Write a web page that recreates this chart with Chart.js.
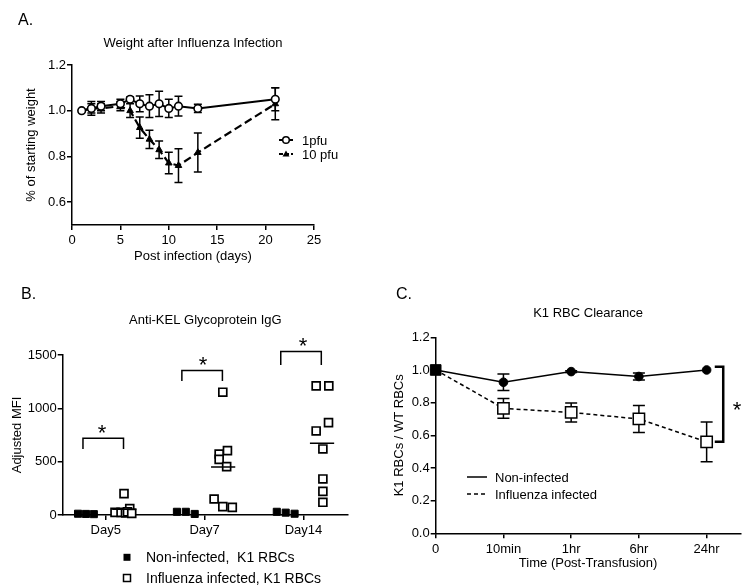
<!DOCTYPE html>
<html><head><meta charset="utf-8">
<script src="https://cdn.jsdelivr.net/npm/chart.js@4.4.1/dist/chart.umd.min.js"></script>
<style>
body{margin:0;background:#fff;}
#wrap{position:relative;width:750px;height:588px;overflow:hidden;font-family:"Liberation Sans",Arial,sans-serif;color:#000;background:#fff;}
canvas{position:absolute;left:0;top:0;}
.t{position:absolute;white-space:pre;line-height:1;}
.c{transform:translate(-50%,-50%);}
.l{transform:translateY(-50%);}
</style></head><body>
<div id="wrap">
<canvas id="cA" width="750" height="588"></canvas>
<canvas id="cB" width="750" height="588"></canvas>
<canvas id="cC" width="750" height="588"></canvas>
<div class="t l" style="left:18px;top:20px;font-size:16px">A.</div>
<div class="t l" style="left:21px;top:294px;font-size:16px">B.</div>
<div class="t l" style="left:396px;top:294px;font-size:16px">C.</div>
<div class="t l" style="left:302px;top:140px;font-size:13px">1pfu</div>
<div class="t l" style="left:302px;top:154px;font-size:13px">10 pfu</div>
<div class="t c" style="left:102px;top:433px;font-size:22px">*</div>
<div class="t c" style="left:203px;top:365px;font-size:22px">*</div>
<div class="t c" style="left:303px;top:346px;font-size:22px">*</div>
<div class="t l" style="left:146px;top:557px;font-size:14px">Non-infected,  K1 RBCs</div>
<div class="t l" style="left:146px;top:578px;font-size:14px">Influenza infected, K1 RBCs</div>
<div class="t l" style="left:495px;top:477px;font-size:13px">Non-infected</div>
<div class="t l" style="left:495px;top:494px;font-size:13px">Influenza infected</div>
<div class="t c" style="left:737px;top:410px;font-size:22px">*</div>
</div>
<script>
// ---------- Panel A data ----------
const daysA = [1, 2, 3, 5, 6, 7, 8, 9, 10, 11, 13, 21];
const weight1pfu = [1.00, 1.01, 1.02, 1.03, 1.05, 1.03, 1.02, 1.03, 1.01, 1.02, 1.01, 1.05];
const err1pfu = [0, 0.02, 0.02, 0.02, 0.01, 0.034, 0.05, 0.055, 0.04, 0.043, 0.018, 0.05];
const weight10pfu = [1.00, 1.01, 1.01, 1.02, 1.00, 0.926, 0.875, 0.829, 0.771, 0.76, 0.817, 1.03];
const err10pfu = [0, 0.03, 0.02, 0.02, 0.03, 0.047, 0.04, 0.038, 0.047, 0.074, 0.085, 0.07];
const yTicksA = [0.6, 0.8, 1.0, 1.2];

// ---------- Panel B data ----------
const groupsB = ['Day5', 'Day7', 'Day14'];
const nonInfB = [[12, 10, 8], [30, 30, 10], [30, 22, 12]];
const nonInfJitB = [[-0.28, -0.2, -0.12], [-0.28, -0.19, -0.1], [-0.27, -0.18, -0.09]];
const infB = [[25, 25, 200, 20, 60, 30, 15], [1151, 603, 572, 522, 453, 150, 78, 72], [1210, 1210, 866, 788, 619, 338, 222, 119]];
const infJitB = [[0.094, 0.155, 0.185, 0.2, 0.243, 0.22, 0.263], [0.184, 0.231, 0.147, 0.147, 0.223, 0.096, 0.184, 0.28], [0.128, 0.256, 0.253, 0.128, 0.196, 0.196, 0.196, 0.196]];
const meanInfB = [55, 450, 672];
const bracketTopB = [720, 1354, 1532];
const bracketLegB = [619, 1257, 1407];

// ---------- Panel C data ----------
const timeLabelsC = ['0', '10min', '1hr', '6hr', '24hr'];
const ratioNonInf = [1.0, 0.925, 0.99, 0.96, 1.0];
const errNonInf = [0, 0.05, 0.005, 0.022, 0];
const ratioInf = [1.0, 0.765, 0.74, 0.70, 0.56];
const errInf = [0, 0.061, 0.058, 0.083, 0.122];
const yTicksC = [0, 0.2, 0.4, 0.6, 0.8, 1.0, 1.2];

Chart.defaults.font.family = '"Liberation Sans", Arial, sans-serif';
Chart.defaults.color = '#000';
Chart.defaults.animation = false;

const errorBars = {
  id: 'errorBars',
  beforeDatasetsDraw(chart) {
    const ctx = chart.ctx, ys = chart.scales.y;
    chart.data.datasets.forEach((ds, i) => {
      if (!ds.errors) return;
      const meta = chart.getDatasetMeta(i);
      ctx.save();
      ctx.strokeStyle = '#000';
      ctx.lineWidth = ds.errWidth || 1.5;
      meta.data.forEach((pt, j) => {
        const e = ds.errors[j];
        if (!e) return;
        const v = ds.data[j].y;
        const y1 = ys.getPixelForValue(v + e), y2 = ys.getPixelForValue(v - e);
        const x = pt.x, c = ds.capHalf || 4;
        ctx.beginPath();
        ctx.moveTo(x, y1); ctx.lineTo(x, y2);
        ctx.moveTo(x - c, y1); ctx.lineTo(x + c, y1);
        ctx.moveTo(x - c, y2); ctx.lineTo(x + c, y2);
        ctx.stroke();
      });
      ctx.restore();
    });
  }
};

function axisCommon() {
  return {
    border: { display: true, color: '#000', width: 1.5 },
    grid: { display: true, drawOnChartArea: false, drawTicks: true, tickLength: 5, color: '#000', lineWidth: 1.5 },
  };
}

// ---------- Chart A ----------
const legendA = {
  id: 'legendA',
  afterDraw(chart) {
    const ctx = chart.ctx;
    ctx.save();
    ctx.strokeStyle = '#000'; ctx.fillStyle = '#000';
    ctx.lineWidth = 2;
    ctx.beginPath(); ctx.moveTo(279, 140); ctx.lineTo(293, 140); ctx.stroke();
    ctx.beginPath(); ctx.arc(286, 140, 3.3, 0, Math.PI * 2); ctx.fillStyle = '#fff'; ctx.fill(); ctx.lineWidth = 1.5; ctx.stroke();
    ctx.lineWidth = 2; ctx.setLineDash([4, 2]);
    ctx.beginPath(); ctx.moveTo(279, 154); ctx.lineTo(293, 154); ctx.stroke();
    ctx.setLineDash([]);
    ctx.fillStyle = '#000';
    ctx.beginPath(); ctx.moveTo(286, 150.5); ctx.lineTo(289.5, 156.5); ctx.lineTo(282.5, 156.5); ctx.closePath(); ctx.fill();
    ctx.restore();
  }
};

new Chart(document.getElementById('cA'), {
  type: 'line',
  data: {
    datasets: [
      {
        label: '1pfu',
        data: daysA.map((d, i) => ({ x: d, y: weight1pfu[i] })),
        errors: err1pfu, capHalf: 4, errWidth: 1.5,
        borderColor: '#000', borderWidth: 2,
        pointStyle: 'circle', pointRadius: 3.8, pointBackgroundColor: '#fff', pointBorderColor: '#000', pointBorderWidth: 1.6,
        tension: 0, clip: false
      },
      {
        label: '10 pfu',
        data: daysA.map((d, i) => ({ x: d, y: weight10pfu[i] })),
        errors: err10pfu, capHalf: 4, errWidth: 1.5,
        borderColor: '#000', borderWidth: 2.2, borderDash: [8, 4],
        pointStyle: 'triangle', pointRadius: 3.8, pointBackgroundColor: '#000', pointBorderColor: '#000', pointBorderWidth: 1,
        tension: 0, clip: false
      }
    ]
  },
  options: {
    responsive: false, devicePixelRatio: 1,
    layout: { padding: { left: 23.2, right: 436, top: 35.2, bottom: 323.5 } },
    plugins: {
      legend: { display: false }, tooltip: { enabled: false },
      title: { display: true, text: 'Weight after Influenza Infection', fullSize: false, color: '#000',
        font: { size: 13, weight: 'normal' }, padding: { top: 0, bottom: 14.2 } }
    },
    scales: {
      x: Object.assign(axisCommon(), {
        type: 'linear', min: 0, max: 25,
        ticks: { stepSize: 5, padding: 3, font: { size: 13 }, maxRotation: 0, callback: v => String(v) },
        title: { display: true, text: 'Post infection (days)', font: { size: 13 }, padding: 0 },
        afterFit(s) { s.height = 39.5; }
      }),
      y: Object.assign(axisCommon(), {
        type: 'linear', min: 0.5, max: 1.2,
        afterBuildTicks(s) { s.ticks = yTicksA.map(v => ({ value: v })); },
        ticks: { padding: 1, font: { size: 13 }, callback: v => Number(v).toFixed(1) },
        title: { display: true, text: '% of starting weight', font: { size: 13 }, padding: 0 },
        afterFit(s) { s.width = 48.8; }
      })
    }
  },
  plugins: [errorBars, legendA]
});

// ---------- Chart B ----------
const nonInfPts = [], infPts = [], meanPts = [];
groupsB.forEach((g, gi) => {
  nonInfB[gi].forEach((v, k) => nonInfPts.push({ x: gi + 1 + nonInfJitB[gi][k], y: v }));
  infB[gi].forEach((v, k) => infPts.push({ x: gi + 1 + infJitB[gi][k], y: v }));
  meanPts.push({ x: gi + 1 + 0.065, y: meanInfB[gi] }, { x: gi + 1 + 0.31, y: meanInfB[gi] }, { x: gi + 1.5, y: null });
});

const extrasB = {
  id: 'extrasB',
  afterDatasetsDraw(chart) {
    const ctx = chart.ctx, xs = chart.scales.x, ys = chart.scales.y;
    ctx.save();
    ctx.strokeStyle = '#000'; ctx.lineWidth = 1.5;
    groupsB.forEach((g, i) => {
      const xl = xs.getPixelForValue(i + 1 - 0.23), xr = xs.getPixelForValue(i + 1 + 0.18);
      const yt = ys.getPixelForValue(bracketTopB[i]), yb = ys.getPixelForValue(bracketLegB[i]);
      ctx.beginPath(); ctx.moveTo(xl, yb); ctx.lineTo(xl, yt); ctx.lineTo(xr, yt); ctx.lineTo(xr, yb); ctx.stroke();
    });
    // legend markers
    ctx.fillStyle = '#000';
    ctx.fillRect(123.5, 553.8, 7, 7);
    ctx.lineWidth = 1.5;
    ctx.strokeRect(123.5, 574.5, 7, 7);
    ctx.restore();
  }
};

new Chart(document.getElementById('cB'), {
  type: 'scatter',
  data: {
    datasets: [
      { label: 'mean', data: meanPts, showLine: true, spanGaps: false, borderColor: '#000', borderWidth: 1.5, pointRadius: 0, clip: false },
      { label: 'Non-infected,  K1 RBCs', data: nonInfPts, pointStyle: 'rect', pointRadius: 5, pointBackgroundColor: '#000', pointBorderColor: '#000', pointBorderWidth: 1, clip: false },
      { label: 'Influenza infected, K1 RBCs', data: infPts, pointStyle: 'rect', pointRadius: 5.6, pointBackgroundColor: '#fff', pointBorderColor: '#000', pointBorderWidth: 1.7, clip: false }
    ]
  },
  options: {
    responsive: false, devicePixelRatio: 1,
    layout: { padding: { left: 9.2, right: 402, top: 312.9, bottom: 48 } },
    plugins: {
      legend: { display: false }, tooltip: { enabled: false },
      title: { display: true, text: 'Anti-KEL Glycoprotein IgG', fullSize: false, color: '#000',
        font: { size: 13, weight: 'normal' }, padding: { top: 0, bottom: 26.5 } }
    },
    scales: {
      x: Object.assign(axisCommon(), {
        type: 'linear', min: 0.565, max: 3.45,
        afterBuildTicks(s) { s.ticks = groupsB.map((g, i) => ({ value: i + 1 })); },
        ticks: { padding: 3, font: { size: 13 }, maxRotation: 0, autoSkip: false, callback: (v, i) => groupsB[i] },
        afterFit(s) { s.height = 25; }
      }),
      y: Object.assign(axisCommon(), {
        type: 'linear', min: 0, max: 1500,
        ticks: { stepSize: 500, padding: 1, font: { size: 13 }, callback: v => String(v) },
        title: { display: true, text: 'Adjusted MFI', font: { size: 13 }, padding: 0 },
        afterFit(s) { s.width = 53.5; }
      })
    }
  },
  plugins: [extrasB]
});

// ---------- Chart C ----------
const extrasC = {
  id: 'extrasC',
  afterDatasetsDraw(chart) {
    const ctx = chart.ctx, xs = chart.scales.x, ys = chart.scales.y;
    ctx.save();
    ctx.strokeStyle = '#000';
    ctx.lineWidth = 2.5;
    const xb = xs.getPixelForValue(4.245), xt = xs.getPixelForValue(4.12);
    const yt = ys.getPixelForValue(1.02), yb = ys.getPixelForValue(0.561);
    ctx.beginPath(); ctx.moveTo(xt, yt); ctx.lineTo(xb, yt); ctx.lineTo(xb, yb); ctx.lineTo(xt, yb); ctx.stroke();
    // legend samples
    ctx.lineWidth = 1.5;
    ctx.beginPath(); ctx.moveTo(467, 477); ctx.lineTo(487, 477); ctx.stroke();
    ctx.setLineDash([4, 3]);
    ctx.beginPath(); ctx.moveTo(467, 494); ctx.lineTo(487, 494); ctx.stroke();
    ctx.restore();
  }
};

new Chart(document.getElementById('cC'), {
  type: 'line',
  data: {
    datasets: [
      {
        label: 'Non-infected',
        data: ratioNonInf.map((v, i) => ({ x: i, y: v })),
        errors: errNonInf, capHalf: 6, errWidth: 1.5,
        borderColor: '#000', borderWidth: 1.5,
        pointStyle: ['rect', 'circle', 'circle', 'circle', 'circle'],
        pointRadius: [7.5, 4.3, 4.3, 4.3, 4.3],
        pointBackgroundColor: '#000', pointBorderColor: '#000', pointBorderWidth: 1,
        tension: 0, clip: false
      },
      {
        label: 'Influenza infected',
        data: ratioInf.map((v, i) => ({ x: i, y: v })),
        errors: errInf, capHalf: 6, errWidth: 1.5,
        borderColor: '#000', borderWidth: 1.5, borderDash: [4, 3],
        pointStyle: 'rect', pointRadius: [0, 8, 8, 8, 8],
        pointBackgroundColor: '#fff', pointBorderColor: '#000', pointBorderWidth: 1.5,
        tension: 0, clip: false
      }
    ]
  },
  options: {
    responsive: false, devicePixelRatio: 1,
    layout: { padding: { left: 391.2, right: 7.3, top: 305.5, bottom: 16.9 } },
    plugins: {
      legend: { display: false }, tooltip: { enabled: false },
      title: { display: true, text: 'K1 RBC Clearance', fullSize: false, color: '#000',
        font: { size: 13, weight: 'normal' }, padding: { top: 0, bottom: 16.2 } }
    },
    scales: {
      x: Object.assign(axisCommon(), {
        type: 'linear', min: 0, max: 4.5,
        afterBuildTicks(s) { s.ticks = timeLabelsC.map((t, i) => ({ value: i })); },
        ticks: { padding: 3, font: { size: 13 }, maxRotation: 0, autoSkip: false, callback: (v, i) => timeLabelsC[i] },
        title: { display: true, text: 'Time (Post-Transfusion)', font: { size: 13 }, padding: 0 },
        afterFit(s) { s.height = 37.8; }
      }),
      y: Object.assign(axisCommon(), {
        type: 'linear', min: 0, max: 1.2,
        afterBuildTicks(s) { s.ticks = yTicksC.map(v => ({ value: v })); },
        ticks: { padding: 1, font: { size: 13 }, callback: v => Number(v).toFixed(1) },
        title: { display: true, text: 'K1 RBCs / WT RBCs', font: { size: 13 }, padding: 0 },
        afterFit(s) { s.width = 44.5; }
      })
    }
  },
  plugins: [errorBars, extrasC]
});
</script>
</body></html>
